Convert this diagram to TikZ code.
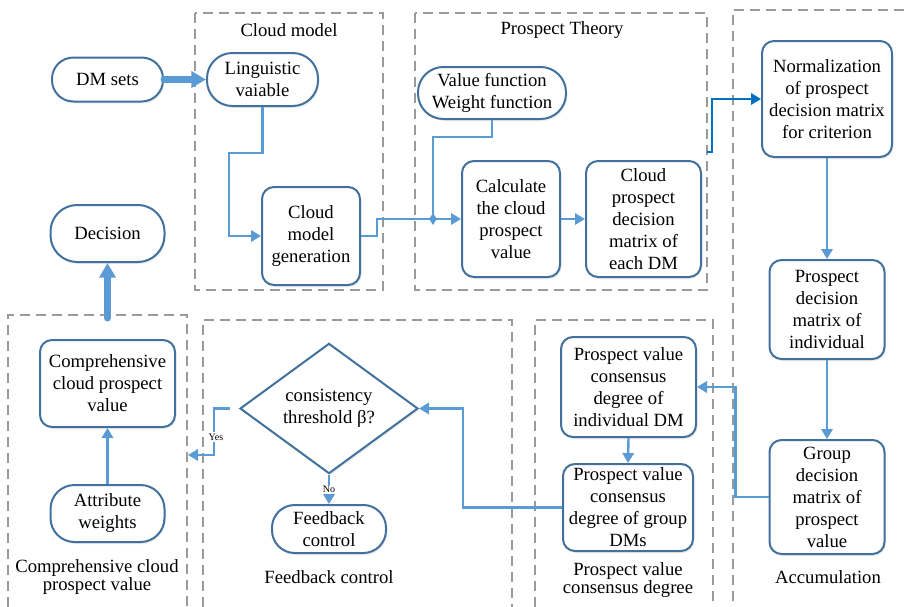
\documentclass[tikz,border=0pt]{standalone}
\usepackage{fontspec}
\setmainfont{Liberation Serif}
\usepackage{tikz}
\usetikzlibrary{positioning,arrows.meta,calc,shapes.geometric,shadows}
\definecolor{nodeblue}{HTML}{41719C}
\definecolor{lineblue}{HTML}{5B9BD5}
\definecolor{darkarrow}{HTML}{0070C0}
\definecolor{boxgray}{HTML}{9A9A9A}
\begin{document}
\begin{tikzpicture}[x=0.75pt,y=-0.75pt,
  txt/.style={font=\fontsize{14}{16.5}\selectfont,align=center},
  lbl/.style={font=\fontsize{7.5}{9}\selectfont,fill=white,inner sep=1pt},
  box/.style={txt,draw=nodeblue,line width=1.5pt,fill=white,inner sep=0pt,rounded corners=9pt,
    drop shadow={opacity=0.15,shadow xshift=1pt,shadow yshift=-1.5pt}},
  stad/.style={box,rounded corners=#1},
  group/.style={draw=boxgray,line width=2pt,dash pattern=on 7.5pt off 4.5pt},
  flow/.style={draw=lineblue,line width=1.8pt,-{Triangle[length=7.5pt,width=8.5pt]}},
  bigflow/.style={draw=lineblue,line width=5.25pt,line cap=round,-{Triangle[length=11pt,width=12pt]}},
  jdot/.style={diamond,fill=lineblue,inner sep=0pt,minimum width=6pt,minimum height=9pt}]
\useasboundingbox (0,0) rectangle (904,607);
% dashed groups
\draw[group] (195,13) rectangle (383,290);
\draw[group] (415,13) rectangle (707,290);
\draw[group] (904,10) -- (733,10) -- (733,607);
\draw[group] (8,607) -- (8,315) -- (187,315) -- (187,607);
\draw[group] (203,607) -- (203,320) -- (512,320) -- (512,607);
\draw[group] (535,607) -- (535,320) -- (713,320) -- (713,607);
\node[txt] (tcloud) at (289,30) {Cloud model};
\node[txt] (tpros) at (562,30) {Prospect Theory};
\node[txt,font=\fontsize{14}{13}\selectfont] (tcomp) at (97,577) {Comprehensive cloud\\prospect value};
\node[txt] (tfeed) at (329,577) {Feedback control};
\node[txt,font=\fontsize{14}{13}\selectfont] (tcons) at (628,580) {Prospect value\\consensus degree};
\node[txt] (taccu) at (828,577) {Accumulation};
% nodes
\node[stad=16pt,minimum width=83.25pt,minimum height=33pt] (dms) at (107.5,79.5) {DM sets};
\node[stad=19pt,minimum width=83.25pt,minimum height=39.75pt] (ling) at (262.5,79.5) {Linguistic\\vaiable};
\node[stad=20pt,minimum width=85.5pt,minimum height=42.75pt] (dec) at (107.5,233.5) {Decision};
\node[box,minimum width=73.5pt,minimum height=73.5pt] (gen) at (311,236) {Cloud\\model\\generation};
\node[stad=19pt,minimum width=111pt,minimum height=39pt] (vf) at (492,93) {Value function\\Weight function};
\node[box,minimum width=73.5pt,minimum height=87pt] (calc) at (511,219) {Calculate\\the cloud\\prospect\\value};
\node[box,minimum width=86.25pt,minimum height=87pt] (cpdm) at (643.5,219) {Cloud\\prospect\\decision\\matrix of\\each DM};
\node[box,minimum width=97.5pt,minimum height=87pt] (norm) at (827,99) {Normalization\\of prospect\\decision matrix\\for criterion};
\node[box,minimum width=86.25pt,minimum height=74.25pt] (pdm) at (827,309.5) {Prospect\\decision\\matrix of\\individual};
\node[box,minimum width=86.25pt,minimum height=85.5pt] (grp) at (827,497) {Group\\decision\\matrix of\\prospect\\value};
\node[box,minimum width=101.25pt,minimum height=75pt] (pvi) at (628.5,387) {Prospect value\\consensus\\degree of\\individual DM};
\node[box,minimum width=97.5pt,minimum height=65.25pt] (pvg) at (628,507.5) {Prospect value\\consensus\\degree of group\\DMs};
\node[box,rounded corners=0pt,diamond,minimum width=133.5pt,minimum height=72.75pt] (dia) at (329,408.5) {consistency\\threshold β?};
\node[box,minimum width=101.25pt,minimum height=65.25pt] (comp) at (107.5,383.5) {Comprehensive\\cloud prospect\\value};
\node[stad=18pt,minimum width=85.5pt,minimum height=42.75pt] (aw) at (107.5,513.5) {Attribute\\weights};
\node[stad=17pt,minimum width=85.5pt,minimum height=36pt] (fb) at (329,529) {Feedback\\control};
\node[jdot] (jn) at (433,219) {};
\coordinate (cpend) at (707,152);
\coordinate (yesend) at (188,455);
\coordinate (bigstart) at (107.5,318);
% connectors
\draw[bigflow] (dms.east) -- (ling.west);
\draw[flow] (ling.south) |- (229,153) |- (gen.west);
\draw[flow] (gen.east) -- (377,236) |- (calc.west);
\draw[draw=lineblue,line width=1.8pt] (vf.south) -- ++(0,17) -| (jn.center);
\draw[flow] (calc.east) -- (cpdm.west);
\draw[flow,draw=darkarrow] (cpend) -- ++(5,0) |- (norm.west);
\draw[flow] (norm.south) -- (pdm.north);
\draw[flow] (pdm.south) -- (grp.north);
\draw[flow] (grp.west) -- ++(-33,0) |- (pvi.east);
\draw[flow] (pvi.south) -- (pvg.north);
\draw[flow] (pvg.west) -- (463,507.5) |- (dia.east);
\draw[flow] ([xshift=-7pt]dia.west) -- (214,408.5) |- (yesend);
\node[lbl] (yes) at (216,437) {Yes};
\draw[flow] (dia.south) -- node[lbl] (no) {No} (fb.north);
\draw[flow] (aw.north) -- (comp.south);
\draw[bigflow] (bigstart) -- (dec.south);
\end{tikzpicture}
\end{document}
